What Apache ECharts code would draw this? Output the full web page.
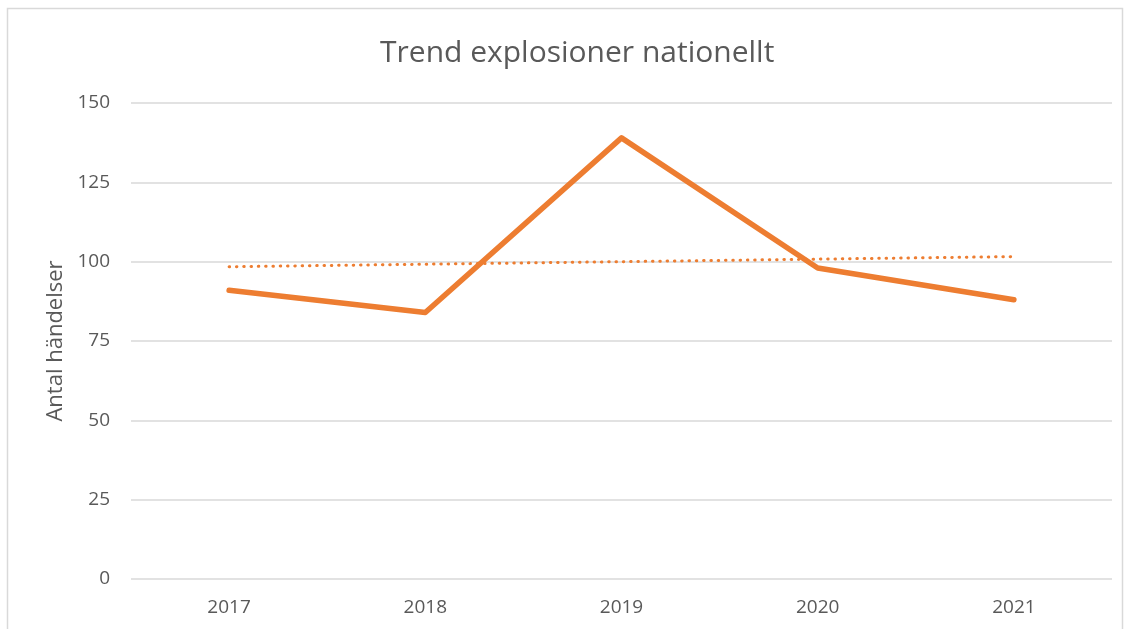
<!DOCTYPE html>
<html>
<head>
<meta charset="utf-8">
<script src="https://cdn.jsdelivr.net/npm/echarts@6/dist/echarts.min.js"></script>
<style>
html,body{margin:0;padding:0;background:#fff;}
#c{width:1130px;height:629px;}
</style>
</head>
<body>
<div id="c"></div>
<script>
const categories = ['2017', '2018', '2019', '2020', '2021'];
const explosions = [91, 84, 139, 98, 88];
const trend = [98.4, 99.2, 100, 100.8, 101.6];
const yTicks = [0, 25, 50, 75, 100, 125, 150];

const chart = echarts.init(document.getElementById('c'));
const font = '"Open Sans", Lato, sans-serif';
chart.setOption({
  animation: false,
  backgroundColor: '#ffffff',
  graphic: [{
    type: 'rect',
    shape: { x: 7.5, y: 8.5, width: 1115, height: 640 },
    style: { fill: 'none', stroke: '#d9d9d9', lineWidth: 1.5 },
    silent: true
  }],
  title: {
    text: 'Trend explosioner nationellt',
    left: 375,
    top: 33,
    textStyle: { fontFamily: font, fontSize: 30, fontWeight: 'normal', color: '#595959' }
  },
  grid: { left: 131, right: 18, top: 103, bottom: 50, containLabel: false },
  xAxis: {
    type: 'category',
    data: categories,
    boundaryGap: true,
    axisLine: { show: false },
    axisTick: { show: false },
    axisLabel: { color: '#595959', fontFamily: font, fontSize: 19, margin: 19 }
  },
  yAxis: {
    type: 'value',
    min: yTicks[0],
    max: yTicks[yTicks.length - 1],
    interval: 25,
    name: 'Antal händelser',
    nameLocation: 'middle',
    nameRotate: 90,
    nameGap: 63,
    nameTextStyle: { color: '#595959', fontFamily: font, fontSize: 22 },
    axisLine: { show: false },
    axisTick: { show: false },
    axisLabel: { color: '#595959', fontFamily: font, fontSize: 19, margin: 21 },
    splitLine: { lineStyle: { color: '#d9d9d9', width: 1.5 } }
  },
  series: [
    {
      name: 'Explosioner',
      type: 'line',
      data: explosions,
      symbol: 'none',
      lineStyle: { color: '#ED7D31', width: 5.5, cap: 'round', join: 'round' },
      z: 3
    },
    {
      name: 'Trend',
      type: 'line',
      data: trend,
      symbol: 'none',
      lineStyle: { color: '#ED7D31', width: 3, type: [0.5, 6.8], cap: 'round' },
      z: 2
    }
  ]
});
</script>
</body>
</html>
